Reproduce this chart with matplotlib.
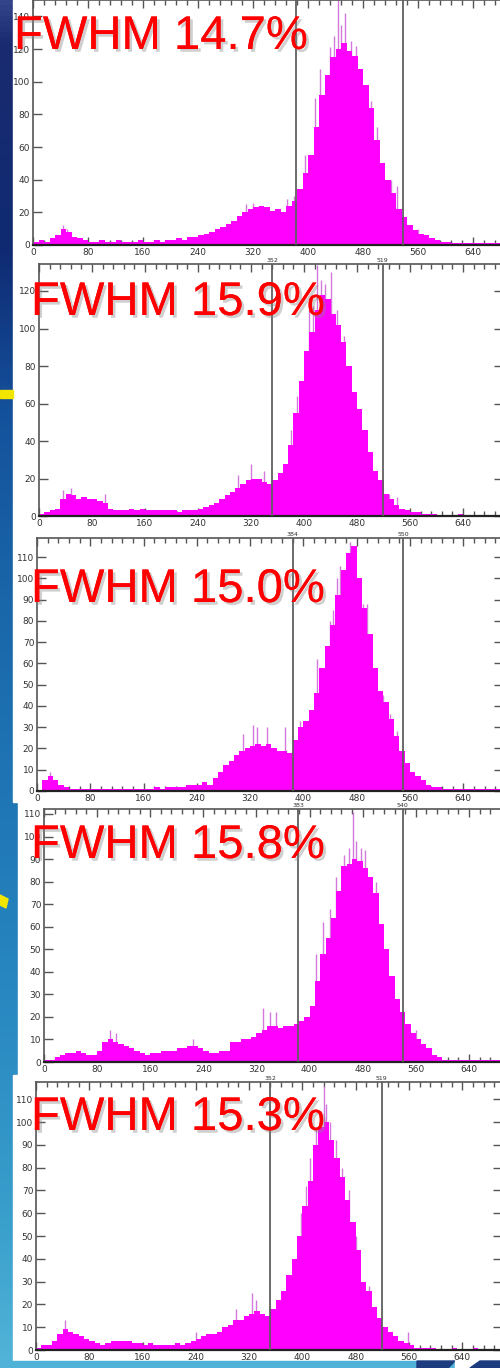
import matplotlib
matplotlib.use('Agg')
import matplotlib.pyplot as plt
import numpy as np
from matplotlib.colors import LinearSegmentedColormap
from matplotlib.patches import Rectangle, Polygon
import matplotlib.patheffects as pe

# ---------------- data ----------------
bin_width = 8
bin_starts = list(range(0, 696, 8))  # 87 bins, 0..688

counts_p1 = [2, 3, 2, 4, 6, 10, 8, 5, 4, 3,
             2, 2, 3, 2, 2, 3, 2, 2, 2, 3,
             2, 2, 3, 2, 3, 3, 4, 3, 5, 5,
             6, 7, 8, 10, 11, 13, 15, 18, 20, 22,
             23, 24, 23, 21, 22, 20, 24, 27, 34, 44,
             55, 72, 92, 104, 115, 120, 124, 119, 116, 108,
             98, 84, 64, 50, 40, 32, 22, 17, 12, 9,
             7, 6, 4, 3, 2, 2, 1, 1, 1, 1,
             1, 1, 1, 1, 1, 1, 0]
counts_p2 = [1, 2, 3, 4, 9, 12, 11, 9, 10, 9,
             9, 8, 7, 4, 3, 3, 3, 4, 3, 4,
             3, 3, 3, 3, 3, 3, 2, 3, 3, 3,
             4, 5, 6, 7, 9, 11, 13, 15, 17, 19,
             20, 20, 18, 17, 19, 23, 28, 38, 55, 72,
             88, 98, 110, 118, 116, 108, 102, 93, 80, 66,
             57, 46, 34, 24, 19, 12, 9, 6, 4, 3,
             2, 2, 1, 1, 1, 0, 0, 0, 0, 1,
             0, 0, 0, 0, 0, 0, 0]
counts_p3 = [0, 5, 7, 5, 3, 2, 1, 1, 1, 1,
             1, 1, 1, 1, 1, 1, 1, 1, 1, 1,
             1, 1, 2, 1, 2, 2, 2, 2, 3, 3,
             3, 4, 3, 6, 9, 12, 14, 17, 19, 20,
             21, 22, 21, 22, 20, 19, 19, 18, 24, 30,
             33, 38, 46, 58, 68, 78, 92, 104, 112, 115,
             100, 86, 74, 58, 47, 42, 34, 26, 19, 13,
             9, 7, 5, 3, 2, 2, 1, 1, 1, 1,
             1, 1, 1, 1, 1, 1, 1]
counts_p4 = [1, 1, 2, 3, 4, 4, 5, 4, 3, 3,
             5, 9, 10, 9, 8, 7, 6, 5, 4, 3,
             4, 4, 5, 5, 5, 6, 6, 7, 7, 6,
             5, 4, 4, 5, 5, 9, 9, 10, 10, 11,
             13, 14, 16, 16, 15, 16, 16, 17, 18, 20,
             25, 36, 48, 55, 64, 76, 87, 88, 90, 89,
             86, 82, 75, 61, 50, 38, 28, 22, 17, 13,
             10, 8, 6, 3, 2, 1, 1, 1, 1, 1,
             1, 1, 1, 1, 1, 1, 1]
counts_p5 = [1, 2, 2, 4, 7, 9, 8, 7, 6, 5,
             4, 3, 2, 3, 4, 4, 4, 4, 3, 3,
             2, 3, 2, 2, 2, 2, 3, 2, 3, 4,
             5, 6, 7, 7, 8, 10, 11, 13, 13, 15,
             16, 17, 16, 15, 18, 22, 26, 33, 40, 50,
             63, 74, 90, 98, 100, 92, 84, 76, 66, 56,
             44, 30, 26, 19, 14, 10, 8, 6, 4, 3,
             2, 1, 1, 1, 1, 0, 0, 0, 1, 0,
             0, 0, 1, 0, 0, 0, 0]

# individual tall channels (channel, count) seen above the envelope
spikes_p1 = [(444, 150), (454, 142), (438, 128), (462, 125), (448, 135), (470, 122),
             (432, 121), (410, 90), (418, 108), (396, 55), (380, 30), (370, 28),
             (500, 72), (492, 88), (520, 40), (530, 36), (43, 12), (50, 10),
             (320, 26), (310, 25), (560, 10)]
spikes_p2 = [(420, 134), (426, 126), (440, 130), (432, 124), (414, 112), (408, 110),
             (450, 110), (460, 96), (380, 46), (390, 64), (320, 28), (340, 24),
             (300, 22), (36, 14), (48, 15), (100, 12), (528, 12), (540, 10)]
spikes_p3 = [(470, 117), (466, 112), (455, 106), (450, 100), (490, 88), (495, 88),
             (445, 85), (440, 80), (420, 62), (395, 33), (410, 38), (324, 31),
             (330, 30), (346, 30), (372, 30), (310, 27), (20, 9), (520, 45),
             (530, 36), (540, 28)]
spikes_p4 = [(466, 111), (470, 98), (460, 95), (478, 95), (484, 94), (452, 92),
             (440, 82), (420, 62), (410, 48), (430, 68), (330, 24), (340, 22),
             (350, 22), (100, 14), (108, 13), (224, 10), (560, 14), (500, 80)]
spikes_p5 = [(433, 116), (436, 108), (428, 105), (442, 100), (420, 98), (412, 84),
             (450, 92), (405, 72), (460, 80), (398, 60), (470, 70), (480, 50),
             (325, 25), (330, 22), (300, 18), (44, 13), (240, 8), (500, 28), (558, 8)]

fwhm_labels = ["FWHM 14.7%", "FWHM 15.9%", "FWHM 15.0%", "FWHM 15.8%", "FWHM 15.3%"]
cursor_lo = [382, 352, 384, 383, 352]
cursor_hi = [538, 519, 550, 540, 519]
show_cursor_labels = [False, True, True, True, True]   # panel 1's are cut off in the picture
x_tick_labels = [0, 80, 160, 240, 320, 400, 480, 560, 640]

all_counts = [counts_p1, counts_p2, counts_p3, counts_p4, counts_p5]
all_spikes = [spikes_p1, spikes_p2, spikes_p3, spikes_p4, spikes_p5]

# ---------------- layout (pixels) ----------------
W, H = 500, 1368
XMAX = 700
layout = [
    dict(left=33, scale=0.6875, y0=245, ppc=1.633, ymax=150, ystep=20, tx=14, tb=49),
    dict(left=39, scale=0.6625, y0=516, ppc=1.875, ymax=134.4, ystep=20, tx=31, tb=315),
    dict(left=37, scale=0.666, y0=791, ppc=2.127, ymax=119, ystep=10, tx=31, tb=602),
    dict(left=44, scale=0.664, y0=1062, ppc=2.255, ymax=112, ystep=10, tx=31, tb=858),
    dict(left=36, scale=0.666, y0=1350, ppc=2.28, ymax=117.5, ystep=10, tx=31, tb=1130),
]

fig = plt.figure(figsize=(W / 100, H / 100), dpi=100)

# background
bg = fig.add_axes([0, 0, 1, 1])
bg.set_xlim(0, W)
bg.set_ylim(H, 0)
bg.axis('off')
cmap = LinearSegmentedColormap.from_list('bg', [
    (0.0, '#34448a'), (0.03, '#1a2a70'), (0.18, '#0f2a72'), (0.30, '#14519c'),
    (0.45, '#1a68aa'), (0.60, '#2078b6'), (0.75, '#2a8ac2'), (0.90, '#3aa0cc'),
    (1.0, '#52b4d8')])
grad = np.linspace(0, 1, 256).reshape(-1, 1)
bg.imshow(grad, cmap=cmap, extent=[0, W, H, 0], aspect='auto', zorder=0)
bg.add_patch(Rectangle((13, 0), W - 13, 802, color='white', zorder=1))
bg.add_patch(Rectangle((18, 802), W - 18, 273, color='white', zorder=1))
bg.add_patch(Rectangle((13, 1075), W - 13, 286, color='white', zorder=1))
bg.add_patch(Rectangle((0, 390), 13, 8, color='#f2e600', zorder=2))
bg.add_patch(Polygon([(0, 895), (8, 899), (6, 908), (0, 905)], color='#f2e600', zorder=2))
bg.add_patch(Rectangle((0, 1361), 417, 7, color='#4fb2d8', zorder=2))
bg.add_patch(Polygon([(417, 1361), (455, 1361), (448, 1368), (417, 1368)], color='#1d3c80', zorder=2))
bg.add_patch(Rectangle((455, 1361), 23, 7, color='white', zorder=2))
bg.add_patch(Polygon([(470, 1368), (480, 1361), (500, 1361), (500, 1368)], color='#1d3c80', zorder=2))

for i, lay in enumerate(layout):
    rect = [lay['left'] / W, 1 - lay['y0'] / H,
            XMAX * lay['scale'] / W, lay['ymax'] * lay['ppc'] / H]
    ax = fig.add_axes(rect)
    ax.set_facecolor('white')
    ax.set_xlim(0, XMAX)
    ax.set_ylim(0, lay['ymax'])
    ax.bar(bin_starts, all_counts[i], width=bin_width, align='edge',
           color='#ff00ff', linewidth=0, zorder=2)
    sx = [s[0] for s in all_spikes[i]]
    sy = [s[1] for s in all_spikes[i]]
    ax.vlines(sx, 0, sy, color='#d478dc', linewidth=1.0, zorder=1.9)
    for c in (cursor_lo[i], cursor_hi[i]):
        ax.axvline(c, color='#606060', linewidth=1.3, zorder=3)
        if show_cursor_labels[i]:
            ax.text(c, lay['ymax'] * 1.004, str(c), ha='center', va='bottom',
                    fontsize=4.5, color='#333333', clip_on=False)
    ax.set_xticks(x_tick_labels)
    ax.set_xticklabels([str(v) for v in x_tick_labels])
    ax.set_xticks(np.arange(0, XMAX + 1, 16), minor=True)
    yt = np.arange(0, lay['ymax'] + 0.1, lay['ystep'])
    ax.set_yticks(yt)
    ax.set_yticklabels([str(int(v)) for v in yt])
    ax.tick_params(axis='both', which='both', direction='in', top=True, right=True,
                   labelsize=6.5, labelcolor='#333333', color='#555555', width=1.0)
    ax.tick_params(axis='x', which='major', length=6, pad=2)
    ax.tick_params(axis='x', which='minor', length=3.5)
    ax.tick_params(axis='y', which='major', length=6.5, pad=2)
    for side in ('left', 'top', 'right'):
        ax.spines[side].set_color('#555555')
        ax.spines[side].set_linewidth(1.2)
    ax.spines['bottom'].set_color('#222222')
    ax.spines['bottom'].set_linewidth(1.6)

    fig.text(lay['tx'] / W, 1 - lay['tb'] / H, fwhm_labels[i], fontsize=34,
             color='#ff0000', family=['Liberation Sans', 'DejaVu Sans'],
             ha='left', va='baseline', zorder=10,
             path_effects=[pe.withSimplePatchShadow(offset=(2, -2),
                                                    shadow_rgbFace='#888888', alpha=0.4),
                           pe.Normal()])

fig.savefig('out.png', dpi=100)
